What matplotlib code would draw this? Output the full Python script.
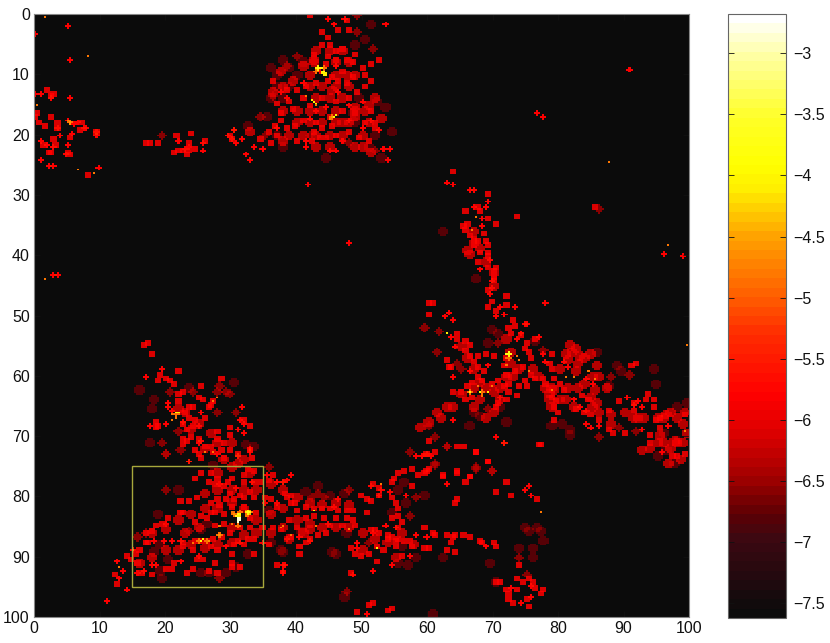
import numpy as np
import matplotlib
matplotlib.use('Agg')
import matplotlib.pyplot as plt
from matplotlib.colors import LinearSegmentedColormap
from matplotlib.patches import Rectangle

plt.rcParams['font.family'] = ['Liberation Sans', 'DejaVu Sans']

# point sources, (x, y), one list per log10 level
plusPoints = [
    (44.7,.7),(47.2,.7),(45.9,1.8),(53.6,1.7),(46,8.5),(43.5,9.5),(41,11.5),(38.5,14),(46.5,13),(47.9,15),(44.5,15.5),(43,16),
    (37.5,13),(42,17.2),(48,17.5),(50,14.5),(51.5,17.5),(50,19),(47,21),(41.5,21),(37,19),(30.6,19.1),(31.8,20.9),(33.5,22),
    (34.7,22.3),(32.4,23.4),(33,24.1),(41.4,21.9),(45.2,22.6),(46.1,22.8),(52.8,19.1),(53.3,22.2),(54.3,22.4),(53.8,24.1),
    (5.1,1.9),(0.2,3.4),(5.4,7.6),(0.3,13.4),(1,13.4),(2.7,13.9),(5.4,13.9),(5.3,17.5),(6.1,18.3),(6.6,18.1),(7.5,18.8),(8.1,19),
    (9.6,19.4),(9.4,20),(5.8,19.8),(3.7,18.8),(4,20.3),(1,21),(1.9,21.7),(3,22),(5,21.7),(2.3,25.2),(1.2,24.2),(3,25),(9.9,25.6),
    (4.7,23.4),(21.9,21.2),(25.9,21.5),(25.9,22.7),(23,22.4),(23.7,22),(29.4,20.3),(30.2,20.9),(30.7,21.5),(30.6,19.1),
    (3,43.3),(3.7,43.4),(90.8,9.1),(76.8,16.4),(77.6,16.9),(41.7,28.4),(48.1,38),
    (62.9,28),(63.8,28.2),(66.3,29.2),(67,29.2),(69.1,31),(66.9,32),(69,32),(68.3,33.9),(68.3,35.3),(69.6,40.9),(68,42.3),
    (69.7,44.3),(69.8,45.4),(69.6,46.5),(73.2,48.5),(71.1,48.7),(70.4,50.2),(71.6,49.8),(77.9,48),(96.2,39.7),(98.8,40.2),
    (63.4,49.4),(62.7,50.2),(63.9,50.8),(63.7,53.5),(64.2,55.2),(74.7,51.3),(75.1,51.3),(74.2,53),(77.1,53.5),(73.7,54),(77.8,56.4),
    (69.1,58.2),(66.5,59.1),(63.8,60.2),(78,57.7),(80.8,57.7),(81.3,58.5),(84.3,60.4),(85.1,61.3),(82.3,64),(71.1,63.5),(90.6,63.5),
    (92.1,64.3),(92.5,65.3),(91.5,64.9),(96.8,68.3),(84.3,68.1),(84.9,68.7),(86.1,68.4),(92.7,69),(95.8,72.5),(70.4,70),(71.6,71.2),
    (64,67.4),(60.6,73.2),(59.8,73),(59.2,73.4),(84.1,65.7),(83.2,65.3),
    (19.4,58.8),(17.1,60.2),(20.4,64.6),(20.4,65.1),(21.2,65.8),(20.1,68),(17.8,68.3),(22.5,67.6),(25.4,66.2),(25.2,68.3),(31.6,65.2),
    (31.4,67.2),(31.9,68),(31,68.9),(32.1,69.5),(25.1,71.2),(33.1,72),(33.1,72.4),(27.9,73.1),(31.1,73.4),(23.6,74.2),(25.6,70.9),
    (23.7,74.3),(35.4,76.3),(37.1,77.7),(37.9,77.6),(38.6,77.2),(39.1,76.4),(28.4,78.1),(30.7,78.5),(33.4,77.8),(35,81),(36.9,81),
    (34.7,87.8),(33.1,72.5),(31,73.4),(20,84.5),(19.8,87.2),(21,87.2),(22.3,87.2),(25.1,89.7),(29.2,88.3),(31.5,87.8),(13.6,92.3),
    (13.1,93.6),(15.7,92.8),(16.7,92.2),(18,91.4),(18.5,91.4),(14.2,95.5),(15.2,88.9),(18.2,87.2),(38.1,91.5),(38,92.5),(22.3,90.8),
    (12.6,90.8),(11,97.3),
    (71.7,71.2),(58.4,73.4),(62.9,78),(75.4,78.3),(74.9,79),(75.9,79.8),(46.5,80.5),(45.9,81.7),(53.1,79),(52.8,79.8),(54.1,79.2),
    (56.6,79.8),(55.1,85),(53.7,84.7),(51.7,86),(49.2,87.5),(49.2,88.5),(58.4,86.4),(59.7,86.7),(57.2,89.7),(54.4,91.5),(51.7,92.3),
    (48.7,93),(50.9,99.5),(68.9,88.3),(38.2,91.5),(38,92.3),(72.7,95.3),(74.2,97.5),(75.7,96.6),(75.8,94.7),(51.3,78.4),(44.7,84.5),
    (40.6,86.7),(42.1,87.2),(38.5,87),(37.9,77.6),
]
squarePoints = [
    (47.5,1),(48,2.7),(43.9,2.9),(44.7,3.8),(46.4,2.5),(44,5),(45.2,5.2),(46.2,6),(47,5.8),(44.8,7),(42.5,6.8),(44.5,8.3),(46,7.5),
    (47.5,7.5),(49,6.8),(48.5,8),(50,8.8),(51.5,8.3),(52.5,7.5),(50.5,10),(51.3,11),(50.5,12),(47,9.5),(45.5,10.5),(46.5,11),(44.8,11),
    (47.5,11.5),(48.5,10.5),(43,11.5),(41.5,12),(40,12.5),(38.5,12.5),(36.5,11),(41,14),(39,14.5),(37,14.8),(37.5,16.5),(39.5,15.8),
    (42,15.3),(44,14),(46,14.5),(48,13.8),(49.2,13),(47,16),(45,17),(43,18),(41,17.5),(42.5,19.5),(44,19),(45.5,18.5),(43.5,20.5),
    (42.2,21),(44.5,20.5),(46,20),(48,19.5),(49.5,20.5),(51,21),(52,19),(50.5,18),(52,18),(51.5,16),(37,20),(36,21.5),(35.8,19.5),
    (36.8,18.5),(38.5,19),(37.8,17.8),(39.8,18.5),(34.5,20.8),(40,21),(42,0.3),
    (2.1,12.6),(3.1,13.4),(2.7,13.7),(.5,16.5),(.3,17),(2.6,17),(.9,18),(3.7,17.9),(1.8,18.6),(3.6,18.9),(7.2,18),(6.9,19.3),(5.6,20.4),
    (2.9,20.9),(3.4,21.8),(1.4,21.7),(2.2,23),(2.7,23),(5.1,23),(5.4,23.4),(8.2,26.7),(9.5,19.5),
    (17.1,21.4),(17.6,21.4),(19,21.4),(21.6,20.2),(23.9,19.7),(23.7,21.3),(21.3,22.9),(22,22.7),(22.5,22.7),(23.5,22.6),(23.4,23.4),
    (24.6,22.4),(26.2,21.2),(29.8,20.2),(30,20.8),
    (63.8,26.2),(69.1,29.7),(65.7,32.5),(67.8,32),(68,32.6),(69.3,33.9),(70.4,34.9),(73.6,33.7),(65.5,35),(66,34.8),(65.8,35.9),(66.5,36.7),
    (67,37.2),(67.8,37.5),(68.6,36.4),(68.9,37.5),(69.1,38.3),(66.9,38.2),(67.9,39.5),(69.2,39.4),(69.2,40.2),(67.5,41.1),(69.3,41.9),
    (70.5,41.9),(70.2,42.8),(70.1,43.6),(70.2,44.3),(69.1,45.7),(71.9,46.7),(69.9,47.6),(69.3,48.7),(70.4,49.2),(72,48.3),(60.2,48),(60.7,48),
    (60.3,49.9),(85.4,32),
    (72.4,51.9),(72.9,50.8),(73.2,51.6),(72.6,53),(75.2,54.4),(76.5,53.8),(74.2,53.3),(64.4,53),(64.6,53.8),(65.8,54.1),(66.3,54.9),
    (65.8,55.8),(66.5,56.6),(67,57.7),(67.5,56.6),(68.8,56.3),(70.1,56.6),(63.1,57.4),(63.2,58.5),(63.7,58.5),(67.8,58.5),(68.6,59.3),
    (67.5,60.2),(68.3,60.7),(66.8,61),(66,61.8),(65.3,62.7),(63.9,62.8),(65.8,64),(66.8,63.5),(69.8,61.3),(70.9,60.7),(71.6,61.8),
    (72.2,61.3),(72.2,62.7),(71.9,64),(70.9,64.6),(70.4,65.1),(73.6,63.3),(73.9,61.8),(74.7,60.7),(75.3,61.7),(75.7,59.9),(76.5,60.5),
    (74.4,58.5),(73.2,59.1),(72,59.9),(72.1,57.1),(71.6,58.2),(75.4,56),(75.7,56.9),(74.7,55.5),(78,61.3),(77.5,60.5),(78.5,58),(79,59),
    (78.9,56.4),(79.3,60.5),(80,61.3),(80.8,62.4),(79,63.5),(79.5,64.3),(79.3,65.2),(79.8,66),(79.1,67.3),(83.6,63.2),(84.6,63.8),
    (83.8,66),(84.9,66.3),(86.1,67.3),(82.8,65.4),(89.2,64.3),(87.7,65.8),(91,58.2),(91.7,58),(91.5,65.7),(91.5,64.6),(93.3,64),(94.4,64),
    (94.6,65),(93.5,63),(95.5,67.1),(94.8,67.4),(94,69.8),(95.6,68.7),(93.8,71.2),(99.1,66.5),(99.1,72.9),(97.3,73.2),(98.1,73.2),
    (87.7,69),(88.2,69.6),(90,69.6),(77.1,71.5),(67.3,72.6),(69.1,74.3),(64.5,75.9),(62.4,76.6),(66.4,76.8),(59.9,75.9),
    (17.4,54.5),(16.7,54.7),(18.1,56.3),(19.1,59.7),(21.9,59.3),(19,60.7),(20.3,60.5),(20.8,60.7),(21.4,61.5),(22.7,62.7),(22,63),(25.4,61.7),
    (28.6,60.5),(21.9,64.2),(25.1,63.7),(25.9,64),(27.4,64.1),(27.1,64.8),(26.7,65.2),(23.6,65),(24.3,65),(23.1,66.2),(23.6,67),(24.6,67.3),
    (26.1,67),(18.5,67.6),(19,68.2),(18.5,68.7),(22.8,67.9),(24.3,68.2),(23.4,68.9),(29.9,68.5),(32.1,67.2),(32.9,68.3),(28,69.2),(29.9,69.8),
    (23.9,70),(25.2,70.4),(22.8,70.6),(23.3,70.9),(22.6,71.5),(28.1,70.6),(28.9,71.2),(27.1,71.7),(24.6,72.2),(25.1,73.1),(25.6,73.7),
    (28.7,72.3),(29.9,72.3),(31,72.9),(28.9,73.7),(33.4,73.7),(26.1,71.7),(27.4,72.6),
    (24.4,77),(25.6,76.2),(26.9,76.2),(33.7,75.9),(32.5,75.6),(32,76.4),(36.5,76.3),(35.8,77.3),(30.2,77),(29.4,77.6),(28.1,77),(27.6,78.1),
    (28.9,78.4),(26.6,77.8),(32,77.8),(33.5,77.8),(34.5,77.8),(33,79.2),(31.5,79.8),(29.7,79.5),(27.9,80.6),(29.2,80.6),(30.4,80.6),(32,80.3),
    (33.7,80.3),(24.8,80),(23.6,80.9),(22.3,80.9),(27.1,81.1),(28.4,81.4),(22.8,82.5),(22.3,82.8),(25.4,83.4),(26.4,83.6),(24.6,84.2),(27.6,82.5),
    (26.9,82.8),(28.9,83.1),(20.5,83.6),(19.5,84.5),(18.5,84.7),(18,85.8),(17,86.1),(17,87.8),(16.2,88.9),(15.4,89.4),(14.1,89.9),(12.6,94.5),
    (12.4,93),(18,93),(21,91.9),(20.2,91.9),(21.5,91.1),(22.8,87.8),(22.8,88.4),(24.3,88.9),(24.8,90.5),(25.9,90.5),(24.1,91.9),(23.3,92.8),
    (26.6,92.2),(27.6,91.1),(27.9,92.5),(30.2,91.1),(31.5,91.6),(30.2,91.7),(33.5,89.4),(30.2,89.4),(27.9,88.9),(27.1,88.3),(26.4,87.2),
    (24.6,87.2),(25.4,87.2),(27.4,87),(28.7,86.7),(29.9,86.1),(31,87.2),(32.5,87),(33.7,87),(32,88.1),(30.4,88.1),(34,82.8),(33,83.6),(32,81.7),
    (30.2,81.7),(28.9,84.5),(27.6,84.7),(31.5,85),(33,85.3),(34.8,85),(36,80.6),(37,81.7),(38.6,80),(39.3,81.1),(40.1,82.3),(36.5,85),(37.6,85.6),
    (38.8,83.9),(40.1,85),(39.3,86.7),(37.1,91.4),(15.7,91.1),(16.4,92.5),(14.9,90.5),(17.2,87.8),(35.8,88.1),(35.3,80),
    (38.3,79.5),(39.1,79.8),(39.9,81.2),(41.4,81.7),(42.6,82),(43.9,82),(45.2,82),(46.5,82.3),(47.7,82.3),(48.5,82.3),(42.6,83.4),(41.4,83.6),
    (44.2,83.6),(46,83.6),(47.5,83.6),(48.5,83.9),(45.2,84.7),(47,84.7),(49,84.7),(44.4,86.1),(43.2,86.4),(42.1,87),(41.4,87.5),(40.4,88.3),
    (40.6,89.6),(49.8,89.7),(49,89.4),(51.1,89.4),(48.3,88.5),(52.3,88.3),(53.8,87),(54.6,86.7),(55.1,87.2),(53.8,86.4),(52.8,86.1),(52.1,85.6),
    (51.3,85.6),(55.6,87),(56.4,87.2),(57.4,87.2),(53.3,88.9),(55.1,88.3),(56.1,89.7),(57.7,88.3),(59.4,88.6),(60.2,88.6),(59.4,85.3),(60.7,86.1),
    (61.2,86.4),(63,86.4),(63.8,86.7),(64.3,86.4),(63.5,87.8),(64.1,89.3),(62.9,88.8),(65.6,86.4),(66.3,86.7),(68.1,87.2),(68.4,87.8),(70.1,87.5),
    (70.6,88.3),(50.8,82.5),(51.3,80.9),(52.6,79.8),(54.4,80),(55.1,81.2),(55.6,82),(55.4,83.4),(56.1,84.2),(54.4,83.6),(55.6,85.3),(54.9,77),
    (55.6,76.2),(54.4,77.8),(51.6,78.1),(52.8,78.7),(49.8,79.8),(50.8,80.6),(57.7,78.4),(56.4,75.7),(57.7,75.5),(58.7,76.3),(59.4,76),(60.2,75.6),
    (60.2,70.9),(61.1,72.5),(59.9,73),(62.3,76.5),(64.5,76),(66.3,76.8),(65.9,77.8),(64.4,80.5),(64.3,81),(69.1,74.2),(71.9,77.8),(70.4,79.3),
    (72.8,79.8),(76.8,80.5),(77.2,71.5),(67.3,72.6),(64.5,71.7),(65.4,71.7),(48.2,92.5),(51.1,98),(51.7,97.7),(49.2,99.3),(53.8,99),(54.5,98.5),
    (52.4,90.8),(70.6,94.3),(71.2,94.3),(71.9,95.5),(72.4,96),(72.2,96.9),(72.9,97.7),(73.7,93.6),(74.5,94.3),(75.5,93.6),(76.2,94.3),(76.3,95.3),
    (77.5,95.5),(77.3,96.2),(75,97.1),(75.4,98.2),(73.8,91.3),(73.7,95.5),
]
roundPoints = [
    (37.8,9.5),(38,12),(36.3,13),(41,8.5),(42.5,7.5),(45.5,12.5),(47,18),(49,17),(50.5,16),(52,14),(53,17.3),(51.2,15),
    (39.5,11),(38,16),(49,15.5),(50,22),(51.5,23),(38,21),(33,19.5),
    (43,6),(45,6),(47,6),(42.5,8),(46,8),(48,8),(42,10),(46,10),(47.5,10),(49,10),(42,12),(44,12),(46,12),(48,12),
    (43,14),(45,14),(47,14),(40,16),(42,16),(44,16),(46,16),(49,16),(40,18),(42,18),(44,18),(46,18),
    (48,18),(51,18),(39,20),(41,20),(43,20),(45,20),(47,20),(50,20),(43,22),(45,22),(49,22),
    (66,39.2),(66.5,39.8),(81.8,54.9),(82.6,55.5),(83.3,56.6),(84.9,56.3),(85.9,58.2),(81,56.3),(81.5,57.4),(82.8,59.1),(79.3,62.4),(78.5,64),
    (83.8,61.3),(84.9,63.5),(85.9,64.6),(85.4,62.4),(87.4,62),(81.5,61.9),(82.3,65.2),(87.9,66.3),(91.5,67.1),(95,67.1),(96.3,66.3),(99.1,66),
    (95.5,69.8),(97.6,70.7),(96.6,74.5),(98.6,74),(99.4,69.6),(92.7,72.2),
    (65,55),(66,57),(67,59),(68,61),(69,62),(70,62.5),(67,62),(65,63),(63,65),(61.5,66),(60,67.5),(59,68.5),(64,65),(62,67),(72,54),(72.5,56),(72.5,58),
    (72,60),(73,60),(74,59),(76,59),(77,60),(78,62),(79,62),(78.5,63),(79,65),(80,64),(81,64),(83,62),(85,65),(86,66),(84,57),(83,58),(85,60),(86,60),
    (82,56),(80,59),(71,62),(71,64),(70,66),(68,64),(67,65),(69,67),
    (96,67),(97,66),(98,67),(99,68),(96,71),(97,72),(98,71),(99,71),(94,72),(95,71),(92,67),(93,67),(90,66),(88,68),
    (18,86),(20,85.5),(22,84),(24,83),(26,82),(28,82),(30,81),(32,79),(34,79),(36,78),(16,91),(18,90),(20,89),(22,89),(24,88),(26,88.5),(28,88),(30,87.5),
    (32,86.5),(34,86),(36,86),(38,85),(40,84),(42,84.5),(44,85),(46,85),(48,85),(50,86),(52,87),(54,87.5),(56,86),(58,88),(55,90),(50,89),
    (38,79),(40,80),(42,81),(44,81.5),(46,81),(48,81.5),(41,86),(39,87),(42,85.5),(28,76),(30,75),(32,74),(33,76),(30,79),(28,79),(26,79.5),(32,82),
    (34,84),(30,85),(36,83),(38,82),(25,85),(23,86),
    (28,71),(30,71),(27,69.5),(25,68),(23,66),(24,69),(26,72),(29,74),(31,74.5),(22,65.5),
    (67,36),(67,38),(68,39),(69,41),(70,43),(70,45),
]
diamondPoints = [
    (49.2,.3),(49.2,3.1),(51.7,5.7),(36.5,13.5),(34.5,17),(35.2,20),(42,20),(48,21.5),(52,22.5),(40,7),(38.5,8.5),(19.4,20.2),(86.1,32.4),
    (64.5,58),(65.3,58.8),(61.3,56),(70.9,54.6),(77.5,55.7),(87.9,60.3),(90.7,59.7),(89.3,68.6),(86.1,70),(91.7,69.3),(69.3,65.4),(61.8,52.5),
    (59.4,52),(67.3,75.3),(69.8,75.8),(61,74.7),(62.9,71.8),(60.2,68.4),(61,70),
    (20.9,62.5),(24.3,62.8),(28.4,61.7),(27.9,62.7),(29.2,62.7),(29.8,63),(27.9,66),(30.8,66.2),(20.1,73),(21.9,69.3),(19.6,71.2),(22.3,72.2),
    (20.2,73),(20.2,79),(35.9,75.2),(17,86.1),(15.9,86.8),(23.6,85.8),(28.2,93.6),
    (57.4,72.5),(62.9,71.8),(61.1,74.6),(67.4,75.4),(69.9,75.8),(43.4,79.5),(48.1,79),(58.3,80.3),(51,87.5),(47.6,95.8),(75.2,93),(73.9,90.3),
    (44.2,80.3),(57.4,83.4),(42.4,80),
]
discPoints = [
    (51.3,1.8),(50.5,4.2),(48.9,5),(38,7.5),(39,9),(37,10),(36,9),(40,10),(41,8),(37,12),(39,12),(36,14),(38,14),(52,20),(51,22),(37,20),
    (48.5,16.5),(49,18),(52.3,14.5),(53.5,15.5),(32.5,18.7),(54.5,19.5),(44.5,24),(38,22),
    (53,24),(49.5,14),(35.5,17),(62.4,36),(67.3,44),
    (69.8,52.4),(70.9,53),(69.1,54.4),(76.5,54.1),(67,66),(68.1,66.8),(71.9,67.7),(79,68.2),(80.5,68),(81.8,69),(81.6,69.8),(89.4,59.1),(88.9,58.2),
    (94.4,59),(94.9,61.3),(87.7,61.8),(95,73.4),(96.3,72.3),(97.6,74.5),(97.9,70.8),(96,69.6),(98.1,65.2),(99.6,64.6),(85.9,56),(66.5,68.4),(71.1,65.1),
    (16.1,62.2),(18.3,64),(18,65.4),(23.7,61.9),(30.6,61.2),(17.5,71.2),(32.4,71.3),(33.7,71.7),
    (22.1,78.8),(18.9,83),(19.2,88),(20.5,90.5),(19.2,92.2),(19.5,93.6),(25.6,92.5),(26.6,92.8),(29.2,92.8),(26.4,84.5),(27.4,74.8),(35.8,82.2),
    (36,87.8),(37.8,89),(32.5,89.4),(30.9,91.6),(25.4,85.6),(18.2,89.2),
    (43.4,78.2),(41.4,79.2),(45.2,79.8),(47.2,79.5),(56.4,77.6),(55.6,79),(59.4,79.8),(45.5,89.2),(46.2,89.6),(38.1,89.2),(40.9,85.7),(58.2,90),
    (57,91.4),(55.5,91.1),(62.3,90),(69.4,91),(47.4,96.8),(60.7,99.5),(74.7,85.3),(75.5,85.9),(76.6,85),(77.3,85.9),(77.8,87.2),(76,88.5),(76,90),
    (73.9,88.6),(70.4,94.3),(54.4,82.5),(56.6,81.2),(56.1,88.3),(47.7,86.1),
]
orangePoints = [
    (45,17.3),(45.5,17),(41.5,13.5),(43,15),(8.4,7.1),(5.4,17.9),(5.5,18.2),(5.2,17.7),(6.6,25.9),(9.2,26.4),(1.6,.6),(.4,15.2),(1.8,43.8),
    (66.8,35.7),(67.3,33.5),(68.3,63.2),(72.1,58.2),(73.7,56.7),(73.9,57.4),(75.4,59.3),(84.6,59.3),(85.4,60.4),(82.4,60.2),(81,60.1),(69.8,61.8),
    (99.1,69.3),(78.8,62.4),(67.8,61.6),(99.6,54.8),(87.7,24.6),(96.8,38.4),(21.2,66.4),(21.7,66.9),(21,67.2),(26.1,72.6),(27.4,72.6),(28.1,63.5),
    (27.4,64.3),(30.2,82.8),(30.5,83.1),(28.4,86.4),(28.2,84.7),(37.8,85),(39.3,86.4),(24.3,87.5),(26.8,87.2),(15.2,88.9),(12.9,91.8),(42.9,84.8),
    (53.1,78),(77.4,82.5),(48,85.6),(38.1,84.9),(32.2,82.3),(33,82.4),(33,83),(32.3,83.2),(30.3,84.5),
]
yellowPoints = [
    (43.2,8.8),(43.5,8.8),(43.9,9.5),(44.2,9.5),(44.5,10),(44,9),(42.2,14.2),(42.5,14.6),(43,14.8),(46,16.6),(45.8,17),
    (72.2,56.3),(72.5,56.3),(72.2,56),(72,56.5),(66.3,62.5),(68.1,62.5),(69.1,62.5),(62.9,53),(21.7,66.2),(21.9,66.2),
    (31.2,83.1),(31.5,83),(30.9,83.3),(32.7,82.8),(32.9,82.6),(25.4,87.2),(25.7,87),(42.6,82.3),(52.2,88.5),
]
whitePoints = [(31.1,83.6),(31.3,83.6),(31.1,83.9),(31.3,83.9),(31.2,84.2)]
glowPoints = [
    (43,9.5),(44.3,9),(45.5,17),(32.5,83),(30.5,83),(31.5,82.5),(31,84.8),(33,82.5),(28.3,86.5),(25,87.3),(21.6,66.5),(5.4,17.9),
    (72.3,57),(68.3,62.8),(66.3,62.6),(26.5,87.2),
]
brightPoints = [(43.3,8.9),(44.2,9.9),(31.2,83.3),(72.3,56.3),(32.8,82.7)]

levels = [-5.85, -6.15, -6.35, -6.65, -6.9, -4.8, -4.0, -2.9, -4.9, -4.1]
tickValues = [-3, -3.5, -4, -4.5, -5, -5.5, -6, -6.5, -7, -7.5]
tickLabels = ['\u22123', '\u22123.5', '\u22124', '\u22124.5', '\u22125', '\u22125.5', '\u22126', '\u22126.5', '\u22127', '\u22127.5']
axisTicks = [0, 10, 20, 30, 40, 50, 60, 70, 80, 90, 100]

vMin = -7.62
vMax = -2.68
colorStops = [
    (-7.62, '#0b0b0b'), (-7.0, '#3c0812'), (-6.8, '#5c0004'), (-6.5, '#a00000'), (-6.1, '#e00000'),
    (-5.8, '#ff0000'), (-5.3, '#ff2c00'), (-5.0, '#ff5c00'), (-4.5, '#ffa000'), (-4.1, '#ffee00'),
    (-3.9, '#ffff00'), (-3.5, '#ffff28'), (-3.0, '#ffffa0'), (-2.68, '#ffffff'),
]

gridSize = 320


def stampOffsets(kind):
    if kind == 'plus':
        return [(0, 0), (1, 0), (-1, 0), (0, 1), (0, -1)]
    if kind == 'square':
        return [(i, j) for i in range(-1, 2) for j in range(-1, 2)]
    if kind == 'round':
        return [(i, j) for i in range(-2, 3) for j in range(-2, 3) if abs(i) + abs(j) < 4]
    if kind == 'diamond':
        return [(i, j) for i in range(-2, 3) for j in range(-2, 3) if abs(i) + abs(j) <= 2]
    if kind == 'disc':
        return [(i, j) for i in range(-3, 4) for j in range(-3, 4) if i * i + j * j <= 6]
    return [(0, 0)]


def buildGrid():
    density = np.zeros((gridSize, gridSize))
    layers = [(plusPoints, 'plus'), (squarePoints, 'square'), (roundPoints, 'round'), (diamondPoints, 'diamond'),
              (discPoints, 'disc'), (orangePoints, 'dot'), (yellowPoints, 'dot'), (whitePoints, 'dot'),
              (glowPoints, 'plus'), (brightPoints, 'plus')]
    scale = gridSize / 100
    for (points, kind), level in zip(layers, levels):
        offsets = stampOffsets(kind)
        for x, y in points:
            col = int(x * scale)
            row = int(y * scale)
            for i, j in offsets:
                if 0 <= row + j < gridSize and 0 <= col + i < gridSize:
                    density[row + j, col + i] += 10.0 ** level
    return np.log10(density + 10.0 ** vMin)


def main():
    cmap = LinearSegmentedColormap.from_list(
        'sourcemap', [((v - vMin) / (vMax - vMin), c) for v, c in colorStops], N=64)

    fig = plt.figure(figsize=(8.3, 6.43), dpi=100)
    ax = fig.add_axes([34 / 830, 1 - 617 / 643, 655 / 830, 603 / 643])
    im = ax.imshow(buildGrid(), extent=(0, 100, 100, 0), aspect='auto', cmap=cmap,
                   vmin=vMin, vmax=vMax, interpolation='nearest')
    ax.set_xticks(axisTicks)
    ax.set_yticks(axisTicks)
    ax.tick_params(direction='in', length=4, width=0.6, labelsize=11.5, pad=3, colors='#111111', top=True, right=True)
    for spine in ax.spines.values():
        spine.set_color('#888888')
        spine.set_linewidth(0.8)

    ax.add_patch(Rectangle((15, 75), 20, 20, fill=False, edgecolor='#a8a83c', linewidth=1.0))

    cax = fig.add_axes([728 / 830, 1 - 618 / 643, 58 / 830, 604 / 643])
    cbar = fig.colorbar(im, cax=cax, ticks=tickValues)
    cbar.ax.set_yticklabels(tickLabels)
    cbar.ax.tick_params(direction='in', length=4, width=0.6, labelsize=11.5, left=True, right=True, pad=5, colors='#111111')
    cbar.outline.set_edgecolor('#666666')
    cbar.outline.set_linewidth(0.8)

    fig.savefig('out.png', dpi=100)


if __name__ == "__main__":
    main()
